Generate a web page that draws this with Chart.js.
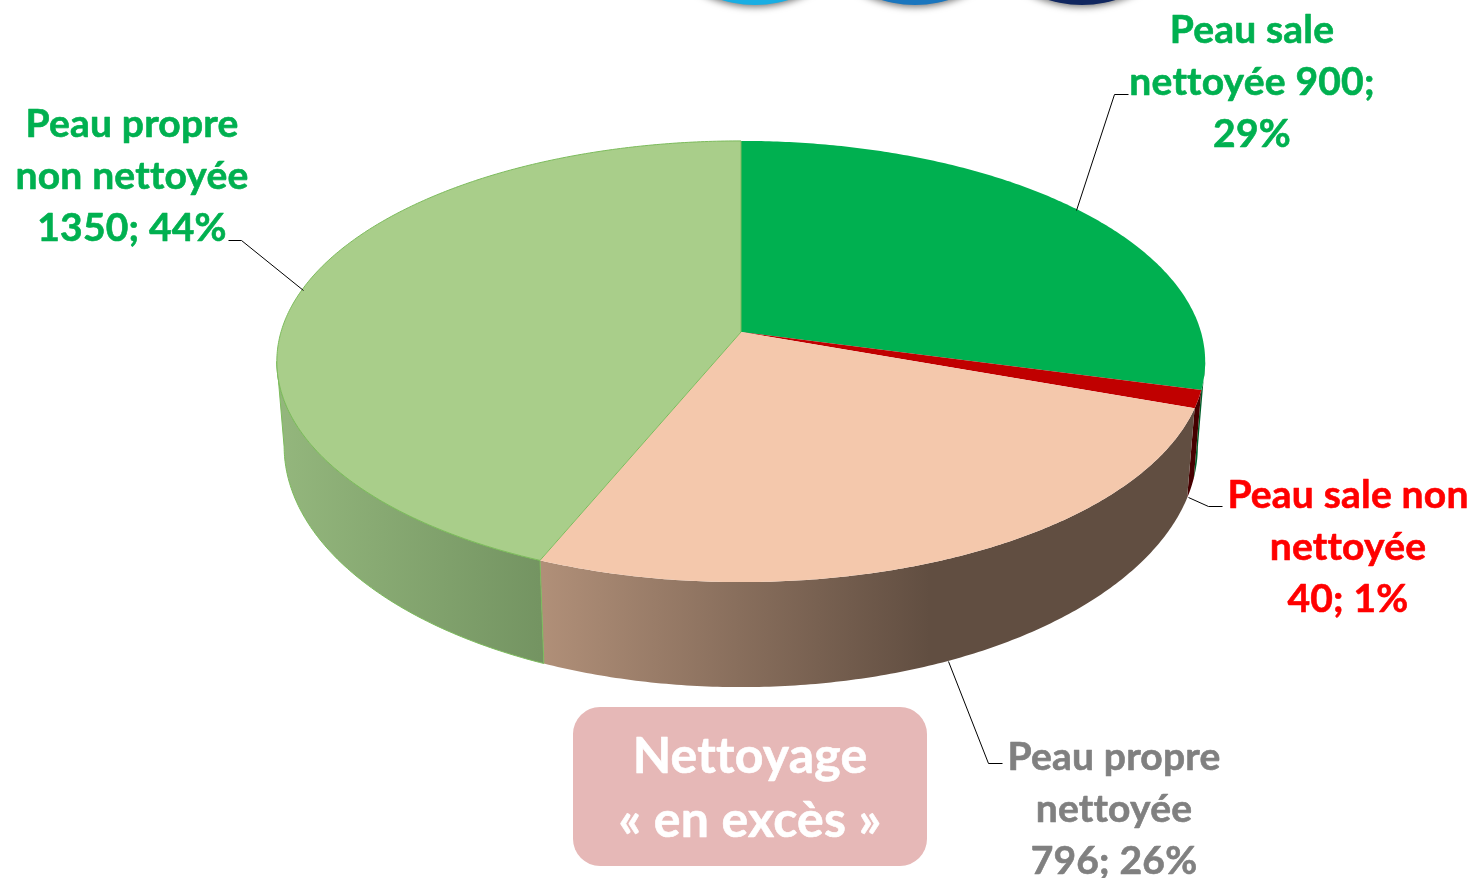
<!DOCTYPE html>
<html lang="fr">
<head>
<meta charset="utf-8">
<title>Nettoyage en excès</title>
<script src="https://cdn.jsdelivr.net/npm/chart.js@4"></script>
<style>html,body{margin:0;padding:0;background:#fff;overflow:hidden}canvas{display:block}</style>
</head>
<body>
<canvas id="c" width="1478" height="878"></canvas>
<script>
const categories = ["Peau sale nettoyée", "Peau sale non nettoyée", "Peau propre nettoyée", "Peau propre non nettoyée"];
const values = [900, 40, 796, 1350];
const percents = [29, 1, 26, 44];
const topColors = ["#00B050", "#C00000", "#F4C8AC", "#A9CE8A"];
const wallFrom = ["#008a3e", "#700000", "#B08F78", "#93B67C"];
const wallTo = ["#00602b", "#450000", "#614E41", "#749462"];
const labelColors = ["#00B050", "#FF0000", "#808080", "#00B050"];
const labelLines = [
  ["Peau sale", "nettoyée 900;", "29%"],
  ["Peau sale non", "nettoyée", "40; 1%"],
  ["Peau propre", "nettoyée", "796; 26%"],
  ["Peau propre", "non nettoyée", "1350; 44%"]
];
const calloutLines = ["Nettoyage", "« en excès »"];

const labelPos = [[1252, 30], [1348, 495], [1114, 757], [132, 124]];
const leaders = [
  [[1076, 210], [1114, 94], [1128, 94]],
  [[1188, 497], [1208, 506], [1222, 506]],
  [[948, 661], [988, 763], [1002, 763]],
  [[303, 290], [241, 240], [228, 240]]
];
const wallSpans = [[740, 1190], [1100, 1195], [544, 930], [285, 540]];

function topPt(el, t) {
  const w = 1 - 0.1338 * Math.sin(t);
  return [el.x + el.outerRadius * Math.cos(t) / w, el.y + el.outerRadius * 0.471 * Math.sin(t) / w];
}
function botPt(el, t) {
  const w = 1 - 0.13 * Math.sin(t);
  return [el.x + 453 * Math.cos(t) / w, 414.7 + 237 * Math.sin(t) / w];
}
function samples(a, b) {
  const n = Math.max(2, Math.ceil((b - a) / 0.01));
  const r = [];
  for (let i = 0; i <= n; i++) r.push(a + (b - a) * i / n);
  return r;
}

const pie3d = {
  id: "pie3d",
  beforeDatasetDraw(chart, args) {
    const ctx = chart.ctx;
    const els = chart.getDatasetMeta(args.index).data;
    ctx.save();
    // circles cut by the top edge
    [[755, "#19AEE3"], [915, "#1A76BE"], [1082, "#10265F"]].forEach(([x, col]) => {
      ctx.save();
      ctx.shadowColor = "rgba(0,0,0,0.55)";
      ctx.shadowBlur = 7;
      ctx.shadowOffsetY = 2;
      ctx.fillStyle = col;
      ctx.beginPath();
      ctx.arc(x, 5 - 115, 115, 0, Math.PI * 2);
      ctx.fill();
      ctx.restore();
    });
    // side walls: only the part between the two tangent silhouette points
    els.forEach((el, i) => {
      const a = Math.max(el.startAngle, 0.134);
      const b = Math.min(el.endAngle, Math.PI - 0.134);
      if (b <= a) return;
      const ts = samples(a, b);
      const g = ctx.createLinearGradient(wallSpans[i][0], 0, wallSpans[i][1], 0);
      g.addColorStop(0, wallFrom[i]);
      g.addColorStop(1, wallTo[i]);
      ctx.fillStyle = g;
      ctx.beginPath();
      ts.forEach((t, k) => {
        const p = topPt(el, t);
        k ? ctx.lineTo(p[0], p[1]) : ctx.moveTo(p[0], p[1]);
      });
      ts.slice().reverse().forEach(t => {
        const p = botPt(el, t);
        ctx.lineTo(p[0], p[1]);
      });
      ctx.closePath();
      ctx.fill();
      if (i === 3) {
        ctx.strokeStyle = "#7CBB5C";
        ctx.lineWidth = 1;
        ctx.stroke();
      }
    });
    // top faces
    els.forEach((el, i) => {
      ctx.fillStyle = el.options.backgroundColor;
      ctx.beginPath();
      ctx.moveTo(el.x, el.y);
      samples(el.startAngle, el.endAngle).forEach(t => {
        const p = topPt(el, t);
        ctx.lineTo(p[0], p[1]);
      });
      ctx.closePath();
      ctx.fill();
      if (i === 3) {
        ctx.strokeStyle = "#7CBB5C";
        ctx.lineWidth = 1;
        ctx.stroke();
      }
    });
    ctx.restore();
    return false;
  },
  afterDraw(chart) {
    const ctx = chart.ctx;
    ctx.save();
    ctx.strokeStyle = "#000";
    ctx.lineWidth = 1;
    leaders.forEach(l => {
      ctx.beginPath();
      l.forEach((p, k) => k ? ctx.lineTo(p[0] + 0.5, p[1] + 0.5) : ctx.moveTo(p[0] + 0.5, p[1] + 0.5));
      ctx.stroke();
    });
    ctx.textAlign = "center";
    ctx.textBaseline = "middle";
    ctx.lineJoin = "round";
    ctx.letterSpacing = "0.2px";
    ctx.font = "bold 39px Lato";
    ctx.lineWidth = 0.6;
    labelLines.forEach((lines, i) => {
      ctx.fillStyle = labelColors[i];
      ctx.strokeStyle = labelColors[i];
      lines.forEach((s, k) => {
        ctx.fillText(s, labelPos[i][0], labelPos[i][1] + k * 52);
        ctx.strokeText(s, labelPos[i][0], labelPos[i][1] + k * 52);
      });
    });
    ctx.fillStyle = "#E6B8B7";
    ctx.beginPath();
    ctx.roundRect(573, 707, 354, 159, 27);
    ctx.fill();
    ctx.fillStyle = "#fff";
    ctx.strokeStyle = "#fff";
    ctx.font = "bold 50px Lato";
    calloutLines.forEach((s, k) => {
      ctx.fillText(s, 750, 757 + k * 64);
      ctx.strokeText(s, 750, 757 + k * 64);
    });
    ctx.restore();
  }
};

new Chart(document.getElementById("c"), {
  type: "pie",
  data: {
    labels: categories,
    datasets: [{ data: values, backgroundColor: topColors, borderWidth: 0 }]
  },
  options: {
    responsive: false,
    animation: false,
    radius: 460,
    layout: { padding: { left: 4, bottom: 214 } },
    plugins: { legend: { display: false }, tooltip: { enabled: false } }
  },
  plugins: [pie3d]
});
</script>
</body>
</html>
